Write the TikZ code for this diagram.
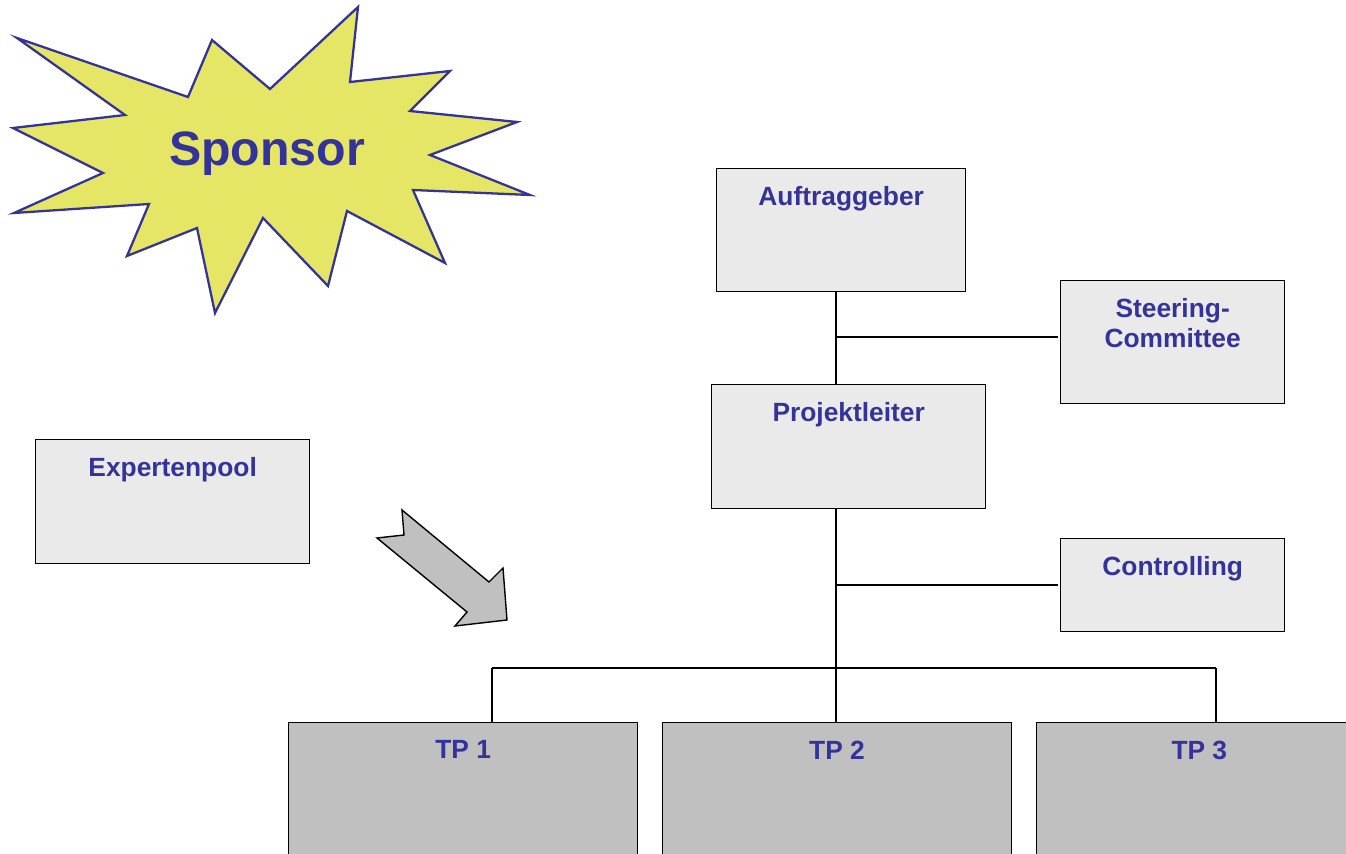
\documentclass[tikz,border=0pt]{standalone}
\usepackage{fontspec}
\setmainfont{Liberation Sans}
\usepackage{xcolor}
\definecolor{orgBlue}{HTML}{333399}
\definecolor{boxBg}{HTML}{EAEAEA}
\definecolor{tpBg}{HTML}{C0C0C0}
\definecolor{starBg}{HTML}{E6E666}
\usetikzlibrary{positioning,calc}
\tikzset{%
  roleBox/.style={%
    rectangle,
    draw=black,
    fill=boxBg,
    line width=0.8pt,
    anchor=north west,
    inner sep=0pt
  },
  tpBox/.style={%
    roleBox,
    fill=tpBg,
    minimum width=6.98cm,
    minimum height=3cm
  },
  boxTitle/.style={%
    anchor=north,
    inner sep=0pt,
    yshift=-0.37cm,
    text=orgBlue,
    font=\fontsize{15}{17}\selectfont\bfseries,
    align=center
  },
  orgLine/.style={%
    draw=black,
    line width=0.8pt
  }
}

\begin{document}
\begin{tikzpicture}[x=0.02cm,y=-0.02cm]
  \useasboundingbox (0,0) rectangle (1346,854);

  % sponsor star
  \draw[fill=starBg, draw=orgBlue, line width=1.3pt, line join=miter]
    (17,38) -- (125,115) -- (13,128) -- (103,173) -- (14,213) -- (149,204)
    -- (127,256) -- (197,228) -- (215,313) -- (263,218) -- (328,286)
    -- (347,211) -- (445,263) -- (413,190) -- (530,195) -- (430,155)
    -- (517,122) -- (410,111) -- (450,71) -- (350,82) -- (358,7)
    -- (270,89) -- (212,40) -- (188,97) -- cycle;
  \node[text=orgBlue, font=\fontsize{27.5}{30}\selectfont\bfseries] (sponsor) at (267,154) {Sponsor};

  % boxes
  \node[roleBox, minimum width=4.98cm, minimum height=2.46cm, label={[boxTitle]north:Auftraggeber}] (auf) at (716,168) {};
  \node[roleBox, minimum width=4.48cm, minimum height=2.46cm, label={[boxTitle]north:Steering-\\Committee}] (steer) at (1060,280) {};
  \node[roleBox, minimum width=5.48cm, minimum height=2.48cm, label={[boxTitle]north:Projektleiter}] (pl) at (711,384) {};
  \node[roleBox, minimum width=5.48cm, minimum height=2.48cm, label={[boxTitle]north:Expertenpool}] (expert) at (35,439) {};
  \node[roleBox, minimum width=4.48cm, minimum height=1.86cm, label={[boxTitle]north:Controlling}] (ctrl) at (1060,538) {};

  \node[tpBox, label={[boxTitle]north:TP 1}] (tp1) at (288,722) {};
  \node[tpBox, right=0.47cm of tp1, label={[boxTitle]north:TP 2}] (tp2) {};
  \node[tpBox, minimum width=6.52cm, right=0.47cm of tp2, label={[boxTitle]north:TP 3}] (tp3) {};

  % connectors
  \coordinate (spine) at (836,0);
  \coordinate (drop1) at (492,668);
  \coordinate (drop3) at (1216,668);
  \draw[orgLine] (auf.south -| spine) -- (pl.north -| spine);
  \draw[orgLine] (steer.west) ++(-2,-5) -- (spine |- {$(steer.west)+(0,-5)$});
  \draw[orgLine] (pl.south -| spine) -- (tp2.north -| spine);
  \draw[orgLine] (ctrl.west) ++(-2,0) -- (spine |- ctrl.west);
  \draw[orgLine] (drop1) -- (drop3);
  \draw[orgLine] (drop1) -- (drop1 |- tp1.north);
  \draw[orgLine] (drop3) -- (drop3 |- tp3.north);

  % arrow
  \draw[fill=tpBg, draw=black, line width=0.8pt, line join=miter]
    (402,510) -- (489,582) -- (503,568) -- (507,620) -- (455,626)
    -- (467,612) -- (377,538) -- (404,535) -- cycle;
\end{tikzpicture}
\end{document}
